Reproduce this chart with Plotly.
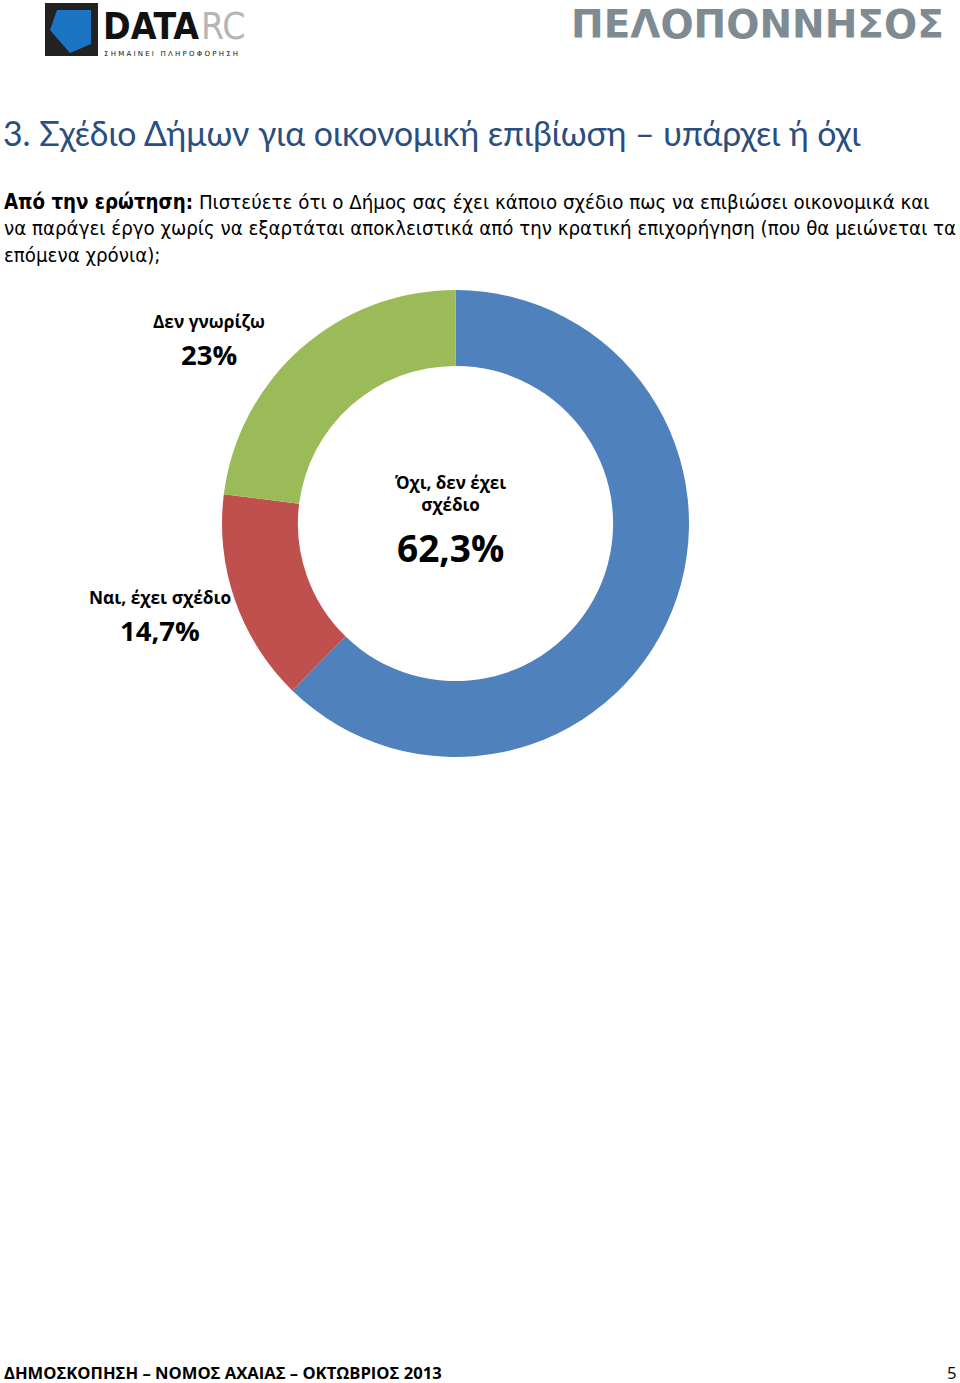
import plotly.graph_objects as go

W, H = 960, 1383

labels = ["Όχι, δεν έχει σχέδιο", "Ναι, έχει σχέδιο", "Δεν γνωρίζω"]
values = [62.3, 14.7, 23.0]
value_texts = ["62,3%", "14,7%", "23%"]
colors = ["#4F81BD", "#C0504D", "#9BBB59"]

title_text = "3. Σχέδιο Δήμων για οικονομική επιβίωση – υπάρχει ή όχι"
question_bold = "Από την ερώτηση:"
question_lines = [
    " Πιστεύετε ότι ο Δήμος σας έχει κάποιο σχέδιο πως να επιβιώσει οικονομικά και",
    "να παράγει έργο χωρίς να εξαρτάται αποκλειστικά από την κρατική επιχορήγηση (που θα μειώνεται τα",
    "επόμενα χρόνια);",
]
footer_text = "ΔΗΜΟΣΚΟΠΗΣΗ – ΝΟΜΟΣ ΑΧΑΙΑΣ – ΟΚΤΩΒΡΙΟΣ 2013"
page_no = "5"


def px(x):
    return x / W


def py(y):
    return 1 - y / H


fig = go.Figure()
fig.add_trace(go.Pie(
    labels=labels, values=values, hole=0.675, sort=False, direction="clockwise",
    rotation=0, marker=dict(colors=colors, line=dict(width=0)),
    textinfo="none", hoverinfo="label+percent", showlegend=False,
    domain=dict(x=[px(222), px(689)], y=[py(757), py(290)]),
))

LBL_FONT = "Open Sans"
ann = []
# Title
ann.append(dict(x=px(1), y=py(133), text=title_text, showarrow=False, xanchor="left", yanchor="middle",
                font=dict(family="Lato", size=33.8, color="#2B4E80")))
# Question
qtext = "<b>" + question_bold + "</b>" + question_lines[0] + "<br>" + question_lines[1] + "<br>" + question_lines[2]
ann.append(dict(x=px(2), y=py(188), text=qtext, showarrow=False, xanchor="left", yanchor="top", align="left",
                font=dict(family="DejaVu Sans Condensed", size=20.3, color="#000000")))
# Slice labels
ann.append(dict(x=px(450), y=py(494), text="<b>Όχι, δεν έχει<br>σχέδιο</b>", showarrow=False,
                xanchor="center", yanchor="middle", font=dict(family=LBL_FONT, size=17, color="#000")))
ann.append(dict(x=px(450), y=py(547), text="<b>" + value_texts[0] + "</b>", showarrow=False,
                xanchor="center", yanchor="middle", font=dict(family=LBL_FONT, size=37, color="#000")))
ann.append(dict(x=px(160), y=py(597), text="<b>Ναι, έχει σχέδιο</b>", showarrow=False,
                xanchor="center", yanchor="middle", font=dict(family=LBL_FONT, size=17.3, color="#000")))
ann.append(dict(x=px(160), y=py(630), text="<b>" + value_texts[1] + "</b>", showarrow=False,
                xanchor="center", yanchor="middle", font=dict(family=LBL_FONT, size=27.5, color="#000")))
ann.append(dict(x=px(209), y=py(321), text="<b>Δεν γνωρίζω</b>", showarrow=False,
                xanchor="center", yanchor="middle", font=dict(family=LBL_FONT, size=17.3, color="#000")))
ann.append(dict(x=px(209), y=py(354), text="<b>" + value_texts[2] + "</b>", showarrow=False,
                xanchor="center", yanchor="middle", font=dict(family=LBL_FONT, size=27.5, color="#000")))
# Footer
ann.append(dict(x=px(2), y=py(1372), text="<b>" + footer_text + "</b>", showarrow=False, xanchor="left",
                yanchor="middle", font=dict(family="Open Sans", size=16.6, color="#000")))
ann.append(dict(x=px(959), y=py(1372), text=page_no, showarrow=False, xanchor="right",
                yanchor="middle", font=dict(family="Open Sans", size=16.6, color="#000")))
# Header: ΠΕΛΟΠΟΝΝΗΣΟΣ
ann.append(dict(x=px(946), y=py(24), text="<b>ΠΕΛΟΠΟΝΝΗΣΟΣ</b>", showarrow=False, xanchor="right",
                yanchor="middle", font=dict(family="DejaVu Sans", size=39, color="#7F8B92")))
# Logo text
ann.append(dict(x=px(101), y=py(27), text="<b>DATA</b>", showarrow=False, xanchor="left",
                yanchor="middle", font=dict(family="DejaVu Sans Condensed", size=37, color="#111")))
ann.append(dict(x=px(199), y=py(27), text="RC", showarrow=False, xanchor="left",
                yanchor="middle", font=dict(family="DejaVu Sans Condensed", size=37, color="#b5b5b5")))
ann.append(dict(x=px(102), y=py(54), text="Σ Η Μ Α Ι Ν Ε Ι   Π Λ Η Ρ Ο Φ Ο Ρ Η Σ Η", showarrow=False,
                xanchor="left", yanchor="middle", font=dict(family="DejaVu Sans", size=7, color="#111")))

shapes = [
    dict(type="rect", xref="paper", yref="paper", x0=px(45), x1=px(98), y0=py(56), y1=py(3),
         fillcolor="#222", line=dict(width=0)),
    dict(type="path", xref="paper", yref="paper",
         path="M {} {} L {} {} L {} {} L {} {} L {} {} Z".format(
             px(57), py(10), px(91), py(10), px(91), py(44), px(70), py(53), px(50), py(30)),
         fillcolor="#1C75C4", line=dict(width=0)),
]

fig.update_layout(
    width=W, height=H, margin=dict(l=0, r=0, t=0, b=0),
    paper_bgcolor="white", plot_bgcolor="white",
    annotations=ann, shapes=shapes,
)

fig.write_html("out.html", config={"displayModeBar": False},
               post_script="document.body.style.margin='0';document.body.style.overflow='hidden';")
